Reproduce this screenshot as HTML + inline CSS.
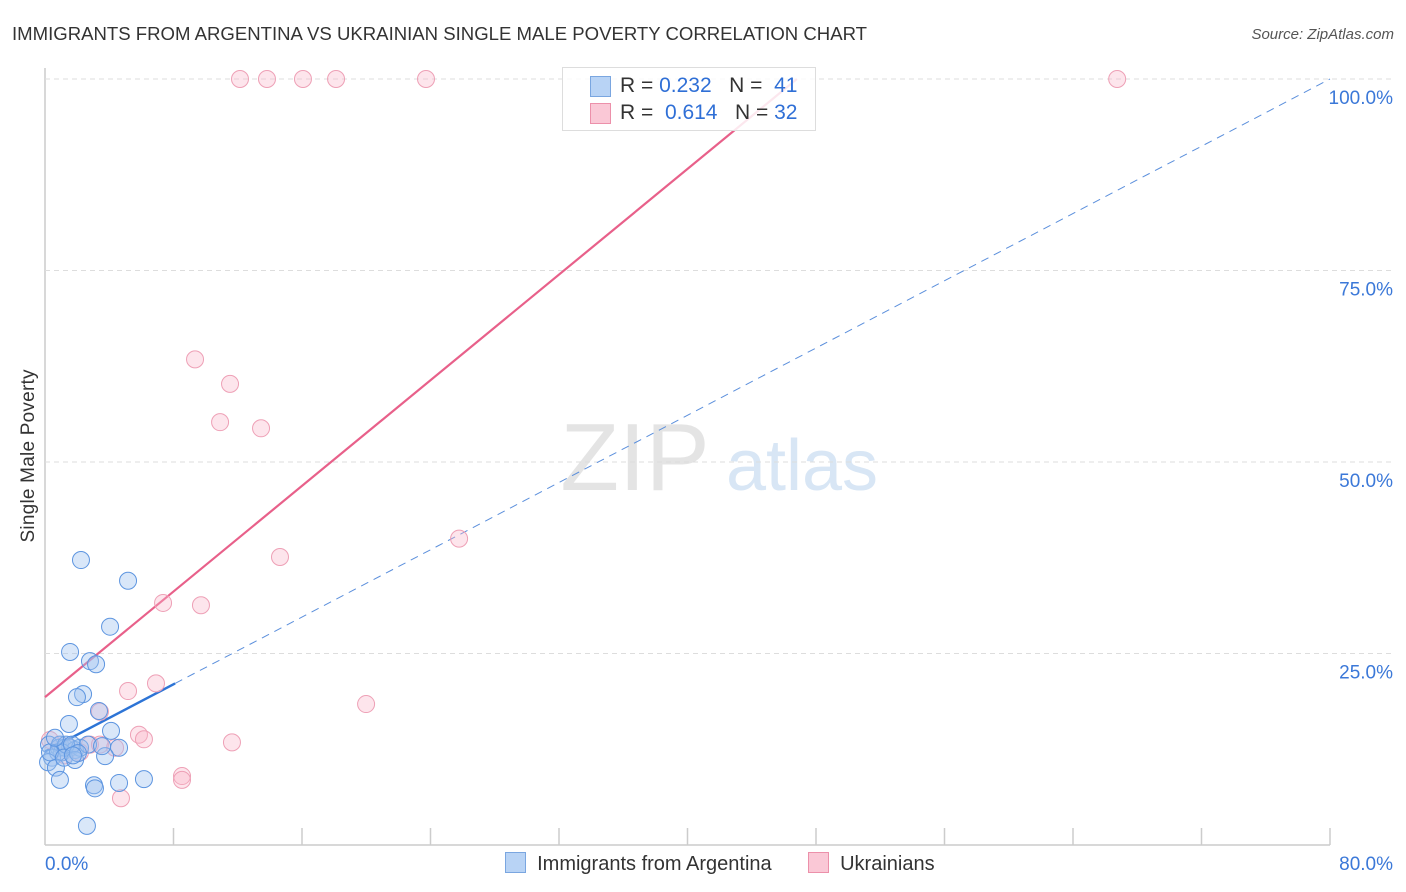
<!DOCTYPE html>
<html><head><meta charset="utf-8"><style>
body{margin:0;background:#fff;font-family:"Liberation Sans",sans-serif;}
#wrap{position:relative;width:1406px;height:892px;overflow:hidden;}
svg text{font-family:"Liberation Sans",sans-serif;}
</style></head><body>
<div id="wrap">
<svg id="chart" width="1406" height="892">
<text x="12" y="40" font-size="18" fill="#333" textLength="855" lengthAdjust="spacingAndGlyphs">IMMIGRANTS FROM ARGENTINA VS UKRAINIAN SINGLE MALE POVERTY CORRELATION CHART</text>
<text x="1394" y="39" font-size="15" fill="#555" font-style="italic" text-anchor="end">Source: ZipAtlas.com</text>
<text x="34" y="456" font-size="19" fill="#333" text-anchor="middle" textLength="173" transform="rotate(-90 34 456)">Single Male Poverty</text>
<g>
<text x="635" y="490" font-size="96" fill="#e4e4e4" font-family="Liberation Serif" text-anchor="middle">ZIP</text>
<text x="802" y="490" font-size="72" fill="#d8e6f5" text-anchor="middle">atlas</text>
</g>
<g id="grid"></g><g id="trends"></g><g id="pts"></g>
</svg>
<div style="position:absolute;left:562px;top:67px;width:252px;height:62px;border:1px solid #ddd;background:rgba(255,255,255,0.85);font-size:21px;color:#333;">
 <div style="position:absolute;left:27px;top:8px;width:19px;height:19px;background:#b8d3f5;border:1px solid #7aa6e0"></div>
 <div style="position:absolute;left:57px;top:6px;white-space:nowrap">R = <span style="color:#2f6fd6">0.232</span>&nbsp;&nbsp;&nbsp;N = &nbsp;<span style="color:#2f6fd6">41</span></div>
 <div style="position:absolute;left:27px;top:35px;width:19px;height:19px;background:#fac8d6;border:1px solid #ec90aa"></div>
 <div style="position:absolute;left:57px;top:33px;white-space:nowrap">R = &nbsp;<span style="color:#2f6fd6">0.614</span>&nbsp;&nbsp;&nbsp;N = <span style="color:#2f6fd6">32</span></div>
</div>
<div style="position:absolute;top:852px;left:505px;font-size:20px;color:#333;">
 <span style="position:absolute;left:0;top:0;white-space:nowrap"><span style="display:inline-block;width:19px;height:19px;background:#b8d3f5;border:1px solid #7aa6e0;vertical-align:-3px"></span>&nbsp;&nbsp;Immigrants from Argentina</span>
 <span style="position:absolute;left:303px;top:0;white-space:nowrap"><span style="display:inline-block;width:19px;height:19px;background:#fac8d6;border:1px solid #ec90aa;vertical-align:-3px"></span>&nbsp;&nbsp;Ukrainians</span>
</div>
</div>
<script>
const blueX=[2.24,5.17,4.05,1.56,2.80,3.18,2.37,1.99,1.49,4.11,3.36,4.61,3.74,0.25,0.87,0.93,1.25,1.56,1.87,2.18,1.06,0.44,0.81,0.19,0.68,0.93,3.05,3.11,4.61,6.16,2.61,1.31,1.68,2.68,0.31,1.18,1.87,2.05,0.62,3.55,1.74];
const blueY=[37.2,34.5,28.5,25.2,24.0,23.6,19.7,19.3,15.8,14.9,17.5,12.7,11.6,13.1,12.7,13.1,12.7,12.7,12.4,12.7,12.1,11.4,12.1,10.8,10.1,8.5,7.8,7.4,8.1,8.6,2.5,13.1,13.1,13.1,12.1,11.4,11.1,12.0,14.0,12.9,11.7];
const pinkX=[12.14,13.82,16.06,18.12,23.72,66.75,9.34,11.52,10.9,13.45,25.78,14.63,7.35,9.71,19.99,6.91,5.17,3.42,5.85,6.16,11.64,8.53,8.53,4.73,4.36,2.18,0.93,0.31,1.56,2.80,1.25,3.42];
const pinkY=[100,100,100,100,100,100,63.4,60.2,55.2,54.4,40.0,37.6,31.6,31.3,18.4,21.1,20.1,17.4,14.4,13.8,13.4,9.0,8.5,6.1,12.7,12.1,13.1,13.7,12.7,13.1,11.7,13.1];
const yTicks=[25,50,75,100];
const xTickLabels=["0.0%","80.0%"];
const blueTrend=[12.2,1.0975];
const pinkTrend=[19.3,1.724];
const NS="http://www.w3.org/2000/svg";
const sx=v=>45+v/80*1285, sy=v=>845-v/100*766;
function mk(t,a,p){const e=document.createElementNS(NS,t);for(const k in a)e.setAttribute(k,a[k]);p.appendChild(e);return e;}
const grid=document.getElementById('grid');
let ax=mk('line',{x1:45,y1:68,x2:45,y2:845,stroke:'#ccc','stroke-width':1.5},grid);


let bx=mk('line',{x1:45,y1:845,x2:1330,y2:845,stroke:'#ccc','stroke-width':1.5},grid);


for(let i=1;i<=10;i++){let t=mk('line',{x1:sx(i*8),x2:sx(i*8),y1:828,y2:845,stroke:'#ccc','stroke-width':1.5},grid);

}
yTicks.forEach(v=>{let l=mk('line',{x1:45,x2:1394,y1:sy(v),y2:sy(v),stroke:'#ddd','stroke-dasharray':'5,4'},grid);


let t=mk('text',{x:1393,y:sy(v)+25,'font-size':19,fill:'#3b78d8','text-anchor':'end'},grid);t.textContent=v.toFixed(1)+'%';

});
xTickLabels.forEach((s,i)=>{let t=mk('text',{x:i?1393:45,y:870,'font-size':19,fill:'#3b78d8','text-anchor':i?'end':'start'},grid);t.textContent=s;

});
const tr=document.getElementById('trends');
let bs=mk('line',{x1:sx(0),y1:sy(blueTrend[0]),x2:sx(8.1),y2:sy(blueTrend[0]+blueTrend[1]*8.1),stroke:'#2d74d6','stroke-width':2.5},tr);


let bd=mk('line',{x1:sx(8.1),y1:sy(blueTrend[0]+blueTrend[1]*8.1),x2:sx(80),y2:sy(blueTrend[0]+blueTrend[1]*80),stroke:'#5b8fdc','stroke-width':1,'stroke-dasharray':'8,6'},tr);


const pe=(100-pinkTrend[0])/pinkTrend[1];
let pl=mk('line',{x1:sx(0),y1:sy(pinkTrend[0]),x2:sx(pe),y2:sy(100),stroke:'#e8608a','stroke-width':2.2},tr);


const pts=document.getElementById('pts');
pinkX.forEach((x,i)=>{let c=mk('circle',{cx:sx(x),cy:sy(pinkY[i]),r:8.5,fill:'rgba(248,180,200,0.35)',stroke:'#eea0b6','stroke-width':1},pts);

});
blueX.forEach((x,i)=>{let c=mk('circle',{cx:sx(x),cy:sy(blueY[i]),r:8.5,fill:'rgba(160,195,240,0.4)',stroke:'#5d95e0','stroke-width':1},pts);

});
</script>
</body></html>
